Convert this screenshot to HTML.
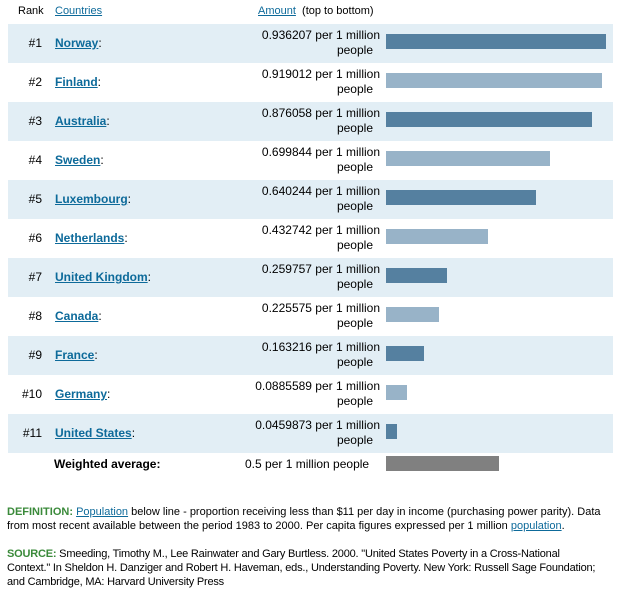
<!DOCTYPE html>
<html><head><meta charset="utf-8"><style>
body{margin:0;width:620px;height:601px;background:#fff;font-family:"Liberation Sans",sans-serif;font-size:12px;color:#000;position:relative;overflow:hidden}
.a{position:absolute;white-space:nowrap}
.row{position:absolute;left:8px;width:605px;height:39px}
.bg{background:#e2eef5}
a{color:#0d6a9a;text-decoration:underline}
.c{font-weight:bold;color:#0d6a9a;text-decoration:underline}
.amt{position:absolute;right:233px;top:4px;text-align:right;line-height:15px}
.amt span{display:block;padding-right:7px}
.bar{position:absolute;left:378px;top:10px;height:15px}
.d{background:#5580a0}.l{background:#98b3c8}
.ft{position:absolute;left:7px;width:612px;font-size:11px;line-height:14px}
.g{color:#3a8a3a;font-weight:bold}
</style></head><body>
<div class="a" style="left:18px;top:5px;font-size:11px">Rank</div>
<div class="a" style="left:55px;top:5px;font-size:11px"><a>Countries</a></div>
<div class="a" style="left:258px;top:5px;font-size:11px"><a>Amount</a>&nbsp; (top to bottom)</div>

<div class="row bg" style="top:24px"><div class="a" style="right:571px;top:12px">#1</div><div class="a" style="left:47px;top:12px"><span class="c">Norway</span>:</div><div class="amt">0.936207 per 1 million<span>people</span></div><div class="bar d" style="width:220px"></div></div>
<div class="row" style="top:63px"><div class="a" style="right:571px;top:12px">#2</div><div class="a" style="left:47px;top:12px"><span class="c">Finland</span>:</div><div class="amt">0.919012 per 1 million<span>people</span></div><div class="bar l" style="width:216px"></div></div>
<div class="row bg" style="top:102px"><div class="a" style="right:571px;top:12px">#3</div><div class="a" style="left:47px;top:12px"><span class="c">Australia</span>:</div><div class="amt">0.876058 per 1 million<span>people</span></div><div class="bar d" style="width:206px"></div></div>
<div class="row" style="top:141px"><div class="a" style="right:571px;top:12px">#4</div><div class="a" style="left:47px;top:12px"><span class="c">Sweden</span>:</div><div class="amt">0.699844 per 1 million<span>people</span></div><div class="bar l" style="width:164px"></div></div>
<div class="row bg" style="top:180px"><div class="a" style="right:571px;top:12px">#5</div><div class="a" style="left:47px;top:12px"><span class="c">Luxembourg</span>:</div><div class="amt">0.640244 per 1 million<span>people</span></div><div class="bar d" style="width:150px"></div></div>
<div class="row" style="top:219px"><div class="a" style="right:571px;top:12px">#6</div><div class="a" style="left:47px;top:12px"><span class="c">Netherlands</span>:</div><div class="amt">0.432742 per 1 million<span>people</span></div><div class="bar l" style="width:102px"></div></div>
<div class="row bg" style="top:258px"><div class="a" style="right:571px;top:12px">#7</div><div class="a" style="left:47px;top:12px"><span class="c">United Kingdom</span>:</div><div class="amt">0.259757 per 1 million<span>people</span></div><div class="bar d" style="width:61px"></div></div>
<div class="row" style="top:297px"><div class="a" style="right:571px;top:12px">#8</div><div class="a" style="left:47px;top:12px"><span class="c">Canada</span>:</div><div class="amt">0.225575 per 1 million<span>people</span></div><div class="bar l" style="width:53px"></div></div>
<div class="row bg" style="top:336px"><div class="a" style="right:571px;top:12px">#9</div><div class="a" style="left:47px;top:12px"><span class="c">France</span>:</div><div class="amt">0.163216 per 1 million<span>people</span></div><div class="bar d" style="width:38px"></div></div>
<div class="row" style="top:375px"><div class="a" style="right:571px;top:12px">#10</div><div class="a" style="left:47px;top:12px"><span class="c">Germany</span>:</div><div class="amt">0.0885589 per 1 million<span>people</span></div><div class="bar l" style="width:21px"></div></div>
<div class="row bg" style="top:414px"><div class="a" style="right:571px;top:12px">#11</div><div class="a" style="left:47px;top:12px"><span class="c">United States</span>:</div><div class="amt">0.0459873 per 1 million<span>people</span></div><div class="bar d" style="width:11px"></div></div>

<div class="a" style="left:54px;top:457px;font-weight:bold">Weighted average:</div>
<div class="a" style="left:245px;top:457px">0.5 per 1 million people</div>
<div class="a" style="left:386px;top:456px;width:113px;height:15px;background:#808080"></div>

<div class="ft" style="top:505px"><span class="g">DEFINITION:</span> <a>Population</a> below line - proportion receiving less than $11 per day in income (purchasing power parity). Data from most recent available between the period 1983 to 2000. Per capita figures expressed per 1 million <a>population</a>.</div>
<div class="ft" style="top:547px;letter-spacing:-0.2px"><span class="g">SOURCE:</span> Smeeding, Timothy M., Lee Rainwater and Gary Burtless. 2000. "United States Poverty in a Cross-National<br>Context." In Sheldon H. Danziger and Robert H. Haveman, eds., Understanding Poverty. New York: Russell Sage Foundation;<br>and Cambridge, MA: Harvard University Press</div>
</body></html>
